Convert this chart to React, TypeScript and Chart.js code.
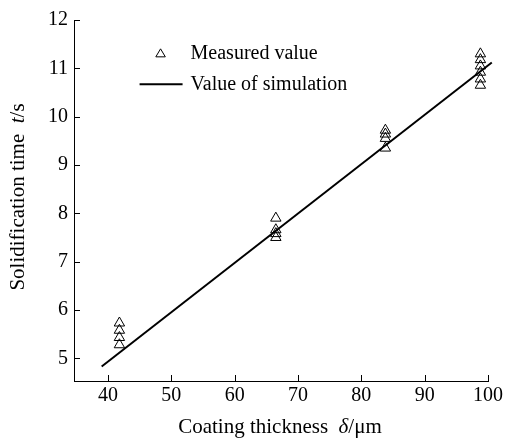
import React, { useEffect, useRef } from "react";
import { Chart, registerables } from "chart.js";

Chart.register(...registerables);

const measuredThickness = [41.8, 66.5, 83.8, 98.8];
const measuredTimes = [
  [5.28, 5.43, 5.58, 5.73],
  [7.5, 7.58, 7.66, 7.9],
  [9.35, 9.55, 9.64, 9.72],
  [10.65, 10.78, 10.92, 11.05, 11.18, 11.3],
];
const simThickness = [39, 100.6];
const simTime = [4.83, 11.12];
const xTicks = [40, 50, 60, 70, 80, 90, 100];
const yTicks = [5, 6, 7, 8, 9, 10, 11, 12];
const legendLabels = ["Measured value", "Value of simulation"];
const xTitleParts = [
  { text: "Coating thickness  ", italic: false },
  { text: "δ", italic: true },
  { text: "/μm", italic: false },
];
const yTitleParts = [
  { text: "Solidification time  ", italic: false },
  { text: "t", italic: true },
  { text: "/s", italic: false },
];

const FONT = "'Liberation Serif', 'Times New Roman', serif";

function drawParts(ctx: CanvasRenderingContext2D, parts: { text: string; italic: boolean }[], cx: number, cy: number, size: number) {
  const fonts = parts.map((p) => `${p.italic ? "italic " : ""}${size}px ${FONT}`);
  let total = 0;
  const widths = parts.map((p, i) => {
    ctx.font = fonts[i];
    const w = ctx.measureText(p.text).width;
    total += w;
    return w;
  });
  let x = cx - total / 2;
  ctx.textBaseline = "middle";
  ctx.textAlign = "left";
  parts.forEach((p, i) => {
    ctx.font = fonts[i];
    ctx.fillText(p.text, x, cy);
    x += widths[i];
  });
}

const decorPlugin = {
  id: "decor",
  afterDraw(chart: any) {
    const ctx: CanvasRenderingContext2D = chart.ctx;
    const { chartArea } = chart;
    const xs = chart.scales.x;
    const ys = chart.scales.y;
    ctx.save();
    ctx.strokeStyle = "#000";
    ctx.fillStyle = "#000";
    ctx.lineWidth = 1;
    // inward ticks
    ctx.beginPath();
    xs.ticks.forEach((t: any) => {
      const px = Math.round(xs.getPixelForValue(t.value)) + 0.5;
      ctx.moveTo(px, chartArea.bottom);
      ctx.lineTo(px, chartArea.bottom - 6);
    });
    ys.ticks.forEach((t: any) => {
      const py = Math.round(ys.getPixelForValue(t.value)) + 0.5;
      ctx.moveTo(chartArea.left, py);
      ctx.lineTo(chartArea.left + 6, py);
    });
    ctx.stroke();

    // legend
    const lx = xs.getPixelForValue(48.3);
    const ly1 = ys.getPixelForValue(11.3);
    const ly2 = ys.getPixelForValue(10.67);
    const r = 5;
    ctx.beginPath();
    ctx.moveTo(lx, ly1 - r);
    ctx.lineTo(lx + r * 0.95, ly1 + r * 0.6);
    ctx.lineTo(lx - r * 0.95, ly1 + r * 0.6);
    ctx.closePath();
    ctx.stroke();
    ctx.lineWidth = 2;
    ctx.beginPath();
    ctx.moveTo(lx - 21, ly2);
    ctx.lineTo(lx + 22, ly2);
    ctx.stroke();
    ctx.font = `20px ${FONT}`;
    ctx.textAlign = "left";
    ctx.textBaseline = "middle";
    ctx.fillText(legendLabels[0], lx + 30, ly1);
    ctx.fillText(legendLabels[1], lx + 30, ly2);

    // axis titles
    drawParts(ctx, xTitleParts, 280, 427, 21);
    ctx.translate(18, 197);
    ctx.rotate(-Math.PI / 2);
    drawParts(ctx, yTitleParts, 0, 0, 21);
    ctx.restore();
  },
};

export default function App() {
  const ref = useRef<HTMLCanvasElement>(null);
  useEffect(() => {
    document.body.style.margin = "0";
    const measuredPoints: { x: number; y: number }[] = [];
    measuredThickness.forEach((x, i) => measuredTimes[i].forEach((y) => measuredPoints.push({ x, y })));
    const simPoints = simThickness.map((x, i) => ({ x, y: simTime[i] }));
    const chart = new Chart(ref.current!, {
      type: "scatter",
      data: {
        datasets: [
          {
            label: legendLabels[1],
            data: simPoints,
            showLine: true,
            borderColor: "#000",
            borderWidth: 2,
            pointRadius: 0,
            clip: false as any,
          },
          {
            label: legendLabels[0],
            data: measuredPoints,
            pointStyle: "triangle",
            pointRadius: 6,
            borderColor: "#000",
            backgroundColor: "rgba(255,255,255,0)",
            borderWidth: 1,
          },
        ],
      },
      options: {
        responsive: false,
        animation: false,
        layout: { padding: { left: 0, top: 20, right: 43, bottom: 0 } },
        plugins: { legend: { display: false }, tooltip: { enabled: false } },
        scales: {
          x: {
            type: "linear",
            min: 34.63,
            max: 100,
            afterBuildTicks: (s: any) => {
              s.ticks = xTicks.map((v) => ({ value: v }));
            },
            afterFit: (s: any) => {
              s.height = 57;
            },
            grid: { display: false, drawTicks: false },
            border: { display: true, color: "#000", width: 1 },
            ticks: { color: "#000", font: { family: FONT, size: 20 }, padding: 3, maxRotation: 0 },
          },
          y: {
            type: "linear",
            min: 4.53,
            max: 12,
            afterBuildTicks: (s: any) => {
              s.ticks = yTicks.map((v) => ({ value: v }));
            },
            afterFit: (s: any) => {
              s.width = 74;
            },
            grid: { display: false, drawTicks: false },
            border: { display: true, color: "#000", width: 1 },
            ticks: { color: "#000", font: { family: FONT, size: 20 }, padding: 6 },
          },
        },
      },
      plugins: [decorPlugin],
    });
    return () => chart.destroy();
  }, []);
  return <canvas ref={ref} width={531} height={438} style={{ display: "block" }} />;
}
